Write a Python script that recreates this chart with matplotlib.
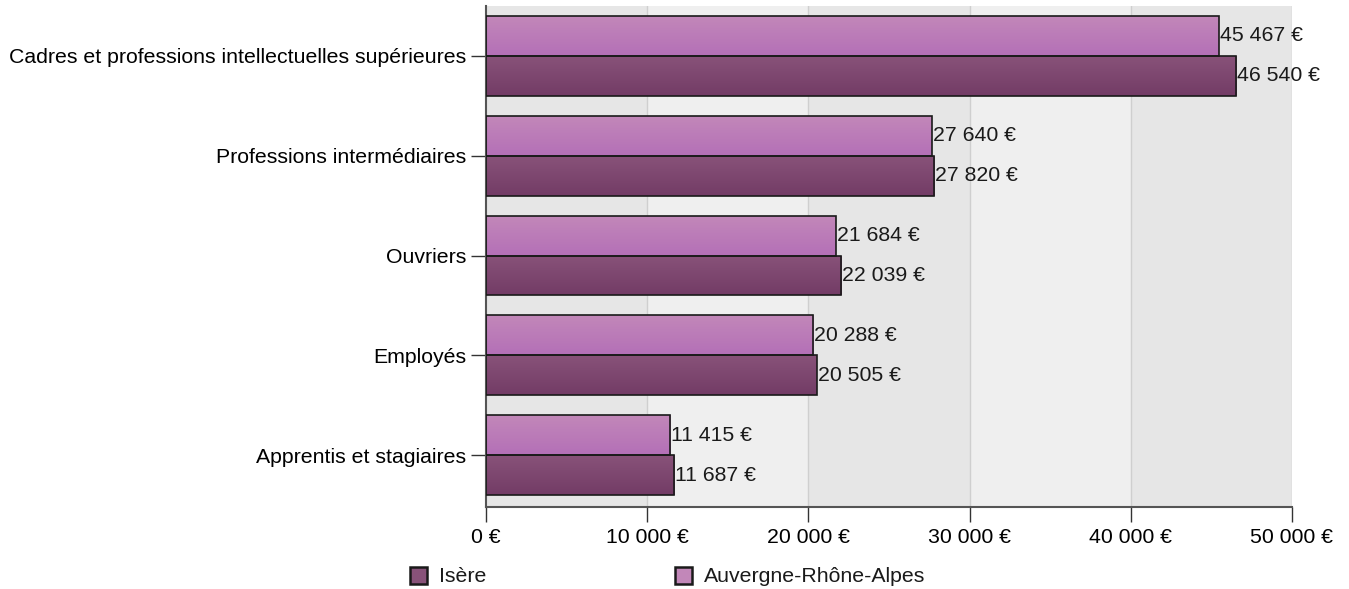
import numpy as np
import matplotlib.pyplot as plt
from matplotlib.patches import Rectangle
from matplotlib.colors import LinearSegmentedColormap
from matplotlib.ticker import FuncFormatter

plt.rcParams['font.family'] = ['Liberation Sans', 'DejaVu Sans']

categories = [
    'Cadres et professions intellectuelles supérieures',
    'Professions intermédiaires',
    'Ouvriers',
    'Employés',
    'Apprentis et stagiaires',
]
isere = [46540, 27820, 22039, 20505, 11687]
auvergne = [45467, 27640, 21684, 20288, 11415]
series_names = ['Isère', 'Auvergne-Rhône-Alpes']

isere_top, isere_bottom = '#885279', '#733c66'
aura_top, aura_bottom = '#c287b9', '#b470b7'
fs = 15.3


def fmt_euro(v):
    return f'{int(v):,} €'.replace(',', ' ')


fig = plt.figure(figsize=(13.49, 5.89), dpi=100)
ax = fig.add_axes([486 / 1349, 1 - 507 / 589, 806 / 1349, 501 / 589])

xmax = 50000
ax.set_xlim(0, xmax)
ax.set_ylim(len(categories) - 0.48, -0.5)

# alternating vertical bands
for i, x0 in enumerate(range(0, xmax, 10000)):
    ax.axvspan(x0, x0 + 10000, color='#e6e6e6' if i % 2 == 0 else '#efefef',
               lw=0, zorder=0)
for x0 in range(10000, xmax + 1, 10000):
    ax.axvline(x0, color='#cfcfcf', lw=1, zorder=0.5)

grad = np.linspace(0, 1, 64).reshape(-1, 1)


def gradient_bar(y, h, w, top, bottom):
    cmap = LinearSegmentedColormap.from_list('g', [top, bottom])
    bar = Rectangle((0, y), w, h, facecolor='none', edgecolor='#1a1a1a',
                    lw=1.2, zorder=3)
    ax.add_patch(bar)
    im = ax.imshow(grad, cmap=cmap, aspect='auto', extent=(0, w, y + h, y),
                   zorder=2, interpolation='bilinear')
    im.set_clip_path(bar)


h = 0.4
y = np.arange(len(categories))
for i in range(len(categories)):
    gradient_bar(y[i] - h, h, auvergne[i], aura_top, aura_bottom)
    gradient_bar(y[i], h, isere[i], isere_top, isere_bottom)
    ax.text(auvergne[i] + 60, y[i] - h / 2, fmt_euro(auvergne[i]),
            va='center', ha='left', fontsize=fs, color='#1a1a1a', zorder=4)
    ax.text(isere[i] + 60, y[i] + h / 2, fmt_euro(isere[i]),
            va='center', ha='left', fontsize=fs, color='#1a1a1a', zorder=4)

ax.set_xlim(0, xmax)
ax.set_yticks(y)
ax.set_yticklabels(categories, fontsize=fs)
ax.set_xticks(range(0, xmax + 1, 10000))
ax.xaxis.set_major_formatter(FuncFormatter(lambda v, p: fmt_euro(v)))
ax.tick_params(axis='x', labelsize=fs, length=11, width=1, color='#333333', pad=4)
ax.tick_params(axis='y', length=11, width=1, color='#333333', pad=3)
for s in ['top', 'right']:
    ax.spines[s].set_visible(False)
for s in ['left', 'bottom']:
    ax.spines[s].set_color('#555555')
    ax.spines[s].set_linewidth(1.5)

# legend
for (x_px, name, top, bottom) in [(410, series_names[0], isere_top, isere_bottom),
                                  (675, series_names[1], aura_top, aura_bottom)]:
    fig.patches.append(Rectangle((x_px / 1349, 1 - 584 / 589), 17 / 1349, 17 / 589,
                                 transform=fig.transFigure, facecolor=top,
                                 edgecolor='#1a1a1a', lw=1.8))
    fig.text((x_px + 29) / 1349, 1 - 576 / 589, name, fontsize=fs,
             va='center', ha='left', color='#1a1a1a')

fig.savefig('out.png', dpi=100)
